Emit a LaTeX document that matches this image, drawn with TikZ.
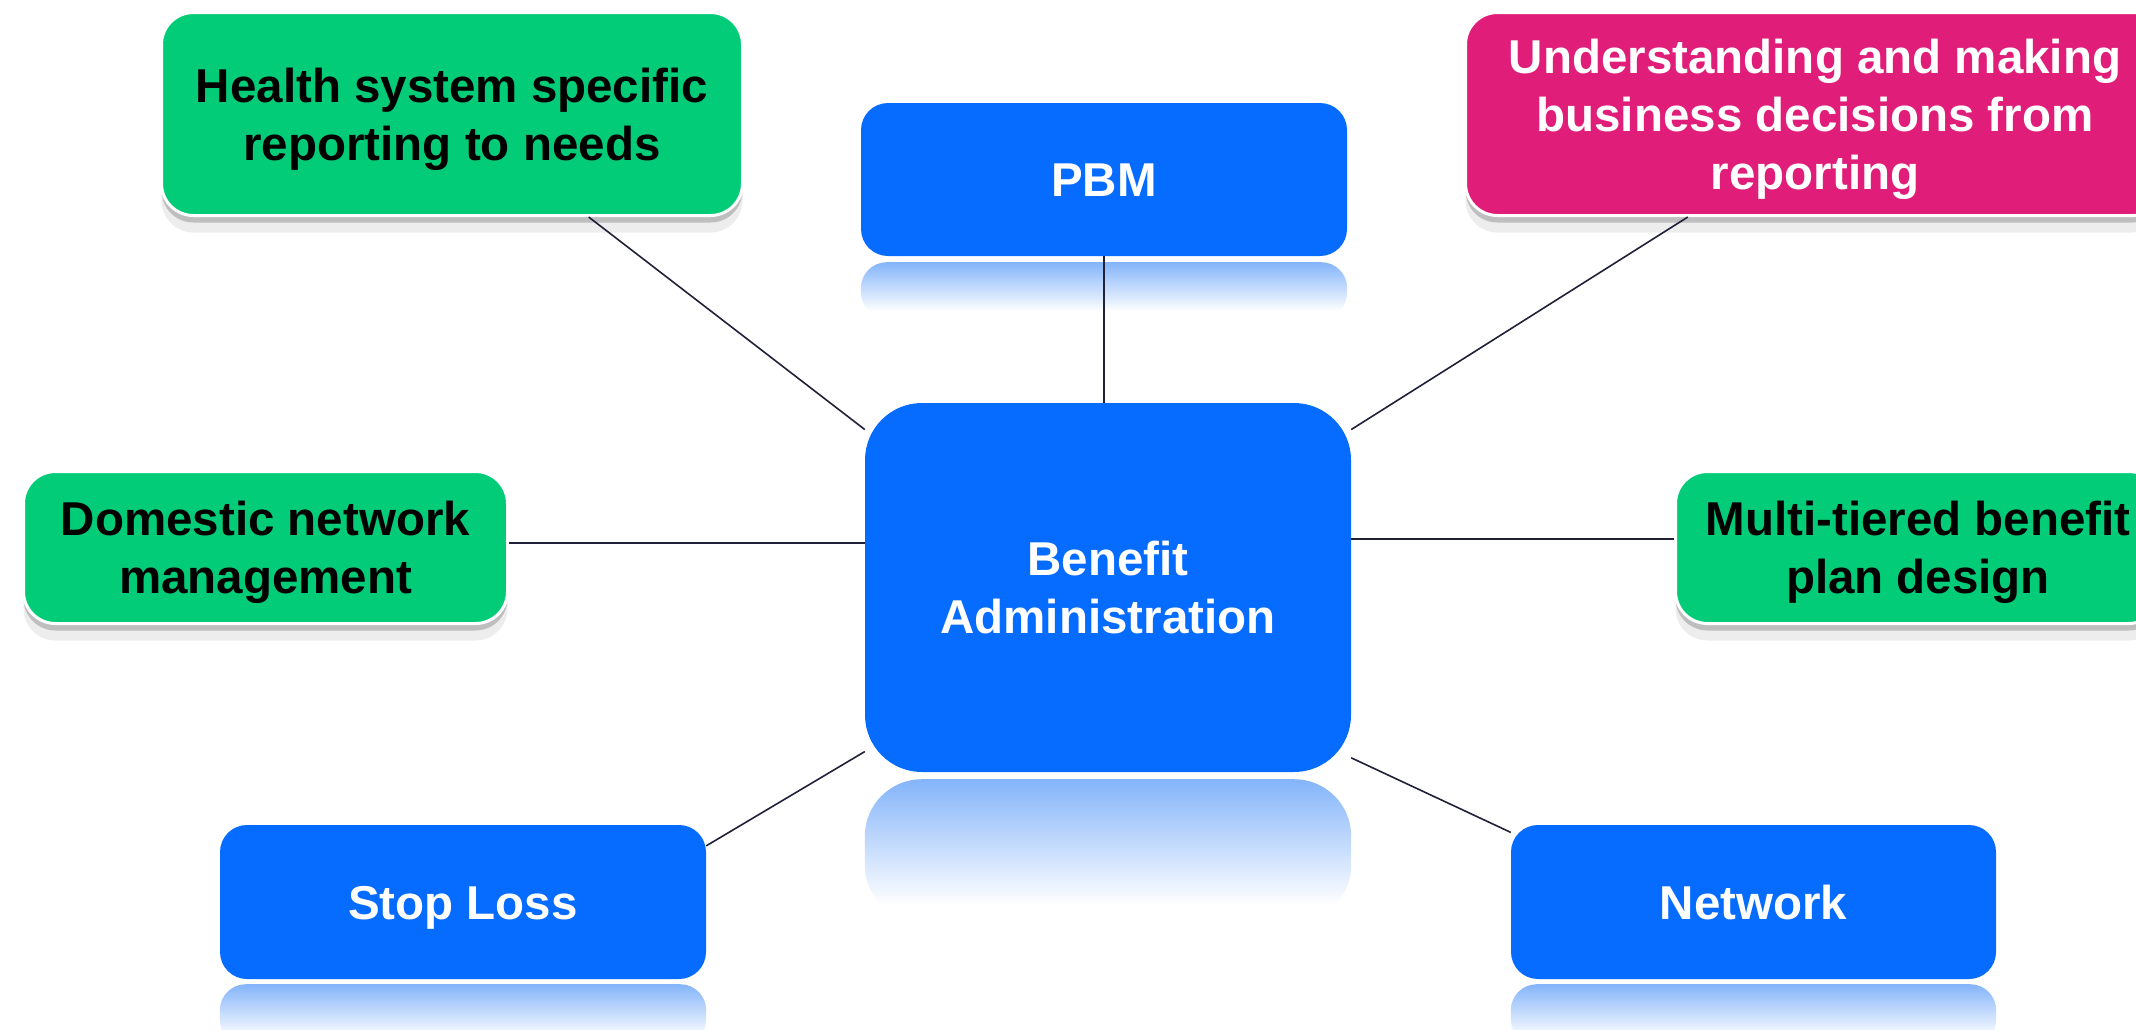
\documentclass[tikz,border=0pt]{standalone}
\usepackage{fontspec}
\setmainfont{Liberation Sans}
\usepackage{tikz}
\usetikzlibrary{calc}
\usetikzlibrary{shadows}
\definecolor{boxblue}{HTML}{056CFF}
\definecolor{boxgreen}{HTML}{03CC78}
\definecolor{boxpink}{HTML}{E01E7A}
\definecolor{reflblue}{HTML}{84B4FA}
\definecolor{linkcol}{HTML}{202038}
\pgfdeclareverticalshading{reflshade}{100bp}{color(0bp)=(white); color(25bp)=(white); color(31bp)=(white); color(75bp)=(reflblue); color(100bp)=(reflblue)}
\def\boxfont{\fontsize{47.5}{58}\selectfont\bfseries}
\def\linkwidth{1.6pt}
\tikzstyle{box}=[rectangle, align=center, inner sep=0pt, font=\boxfont, text depth=1pt]
\tikzstyle{oneline}=[text height=35pt]
\tikzstyle{twolines}=[text height=93pt]
\tikzstyle{threelines}=[text height=151pt]
\tikzstyle{bluebox}=[box, fill=boxblue, text=white, rounded corners=27pt]
\tikzstyle{softshadow}=[drop shadow={shadow xshift=0pt, shadow yshift=-7pt, opacity=0.2, fill=black},
  drop shadow={shadow xshift=0pt, shadow yshift=-17pt, opacity=0.07, fill=black}]
\tikzstyle{greenbox}=[box, softshadow, fill=boxgreen, draw=white, line width=3pt, rounded corners=32pt, text=black]
\tikzstyle{pinkbox}=[box, softshadow, fill=boxpink, draw=white, line width=3pt, rounded corners=32pt, text=white]
\tikzstyle{link}=[draw=linkcol, line width=\linkwidth]
\tikzset{reflection/.style={shading=reflshade, draw=none}}

\begin{document}
\begin{tikzpicture}[x=1pt, y=-1pt]
\useasboundingbox (0,0) rectangle (2136,1029);
\clip (0,0) rectangle (2136,1029);
% outer boxes
\node [greenbox, twolines, minimum width=581pt, minimum height=203pt] (health) at (452,114) {Health system specific\\reporting to needs};
\node [bluebox, oneline, minimum width=486pt, minimum height=153pt] (pbm) at (1104,179.5) {PBM};
\node [pinkbox, threelines, minimum width=699pt, minimum height=203pt] (decisions) at (1815,114) {Understanding and making\\business decisions from\\reporting};
\node [greenbox, twolines, minimum width=484pt, minimum height=152pt] (domestic) at (265.5,547.5) {Domestic network\\management};
\node [greenbox, twolines, minimum width=485pt, minimum height=152pt] (tiered) at (1918,547.5) {Multi-tiered benefit\\plan design};
\node [bluebox, oneline, minimum width=486pt, minimum height=154pt] (stoploss) at (463,902) {Stop Loss};
\node [bluebox, oneline, minimum width=485pt, minimum height=154pt] (network) at (1753.5,902) {Network};
% centre
\node [bluebox, twolines, rounded corners=57pt, minimum width=486pt, minimum height=369pt] (benefit) at (1108,587.5) {Benefit\\Administration};
% reflections
\shade [reflection, rounded corners=26pt] ($(pbm.south west)+(0,6)$) rectangle ($(pbm.south east)+(0,62)$);
\shade [reflection, rounded corners=57pt] ($(benefit.south west)+(0,7)$) rectangle ($(benefit.south east)+(0,150)$);
\shade [reflection, rounded corners=26pt] ($(stoploss.south west)+(0,5)$) rectangle ($(stoploss.south east)+(0,66)$);
\shade [reflection, rounded corners=26pt] ($(network.south west)+(0,5)$) rectangle ($(network.south east)+(0,66)$);
% links
\draw [link] (health.-37.4) -- (benefit.147.7);
\draw [link] (pbm.south) -- (pbm.south |- benefit.north);
\draw [link] (decisions.-141.1) -- (benefit.33.2);
\draw [link] (domestic.1.5) -- (domestic.1.5 -| benefit.west);
\draw [link] (tiered.178.5) -- (tiered.178.5 -| benefit.east);
\draw [link] (stoploss.13.8) -- (benefit.-146.3);
\draw [link] (network.164.9) -- (benefit.-35.2);
\end{tikzpicture}
\end{document}
